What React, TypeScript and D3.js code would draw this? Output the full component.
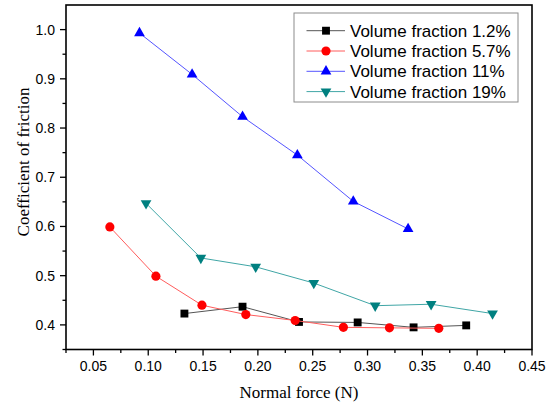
import React from 'react'
import * as d3 from 'd3'

const width = 551
const height = 407

const margins = { left: 66, right: 19, top: 5, bottom: 57.5 }

// data
const xBlack = [0.133, 0.186, 0.2375, 0.291, 0.342, 0.39]
const yBlack = [0.423, 0.437, 0.406, 0.405, 0.395, 0.399]
const xRed = [0.065, 0.107, 0.149, 0.189, 0.234, 0.278, 0.32, 0.365]
const yRed = [0.599, 0.499, 0.44, 0.421, 0.409, 0.395, 0.394, 0.393]
const xBlue = [0.092, 0.14, 0.186, 0.236, 0.287, 0.337]
const yBlue = [0.993, 0.909, 0.823, 0.745, 0.651, 0.595]
const xTeal = [0.098, 0.148, 0.198, 0.251, 0.307, 0.358, 0.414]
const yTeal = [0.647, 0.536, 0.518, 0.485, 0.439, 0.442, 0.423]

const seriesNames = [
  'Volume fraction 1.2%',
  'Volume fraction 5.7%',
  'Volume fraction 11%',
  'Volume fraction 19%',
]

const xTicks = [0.05, 0.1, 0.15, 0.2, 0.25, 0.3, 0.35, 0.4, 0.45]
const yTicks = [0.4, 0.5, 0.6, 0.7, 0.8, 0.9, 1.0]

const series = [
  { name: seriesNames[0], xs: xBlack, ys: yBlack, line: '#555555', fill: '#000000', symbol: d3.symbolSquare, size: 62, rotate: 0 },
  { name: seriesNames[1], xs: xRed, ys: yRed, line: '#ff5c5c', fill: '#ff0000', symbol: d3.symbolCircle, size: 66, rotate: 0 },
  { name: seriesNames[2], xs: xBlue, ys: yBlue, line: '#5555ff', fill: '#0000ff', symbol: d3.symbolTriangle, size: 50, rotate: 0 },
  { name: seriesNames[3], xs: xTeal, ys: yTeal, line: '#40a6a6', fill: '#008080', symbol: d3.symbolTriangle, size: 50, rotate: 180 },
]

const tickFont = { fontFamily: 'Liberation Sans, Arial, sans-serif', fontSize: '14px' }
const titleFont = { fontFamily: 'Liberation Serif, Times New Roman, serif', fontSize: '17px' }

export default function App() {
  const x = d3.scaleLinear().domain([0.025, 0.45]).range([margins.left, width - margins.right])
  const y = d3.scaleLinear().domain([0.35, 1.05]).range([height - margins.bottom, margins.top])

  const xMinor = d3.range(0.025, 0.45, 0.05)
  const yMinor = d3.range(0.35, 1.05, 0.1)

  const line = d3.line<number[]>().x((d) => x(d[0])).y((d) => y(d[1]))

  const legend = { x: 294, y: 13, w: 224, h: 89, rowStart: 30.7, rowStep: 20.3 }

  return (
    <svg width={width} height={height} style={{ position: 'absolute', left: 0, top: 0, background: '#fff' }}>
      {/* frame */}
      <rect
        x={x(0.025)}
        y={y(1.05)}
        width={x(0.45) - x(0.025)}
        height={y(0.35) - y(1.05)}
        fill="none"
        stroke="#000"
        strokeWidth={1.6}
      />
      {/* x ticks */}
      {xTicks.map((t) => (
        <g key={'xt' + t}>
          <line x1={x(t)} x2={x(t)} y1={y(0.35)} y2={y(0.35) + 6} stroke="#000" strokeWidth={1.3} />
          <text x={x(t)} y={371} textAnchor="middle" style={tickFont}>
            {t.toFixed(2)}
          </text>
        </g>
      ))}
      {xMinor.map((t) => (
        <line key={'xm' + t} x1={x(t)} x2={x(t)} y1={y(0.35)} y2={y(0.35) + 3.5} stroke="#000" strokeWidth={1.3} />
      ))}
      {/* y ticks */}
      {yTicks.map((t) => (
        <g key={'yt' + t}>
          <line x1={x(0.025) - 6} x2={x(0.025)} y1={y(t)} y2={y(t)} stroke="#000" strokeWidth={1.3} />
          <text x={55} y={y(t) + 5} textAnchor="end" style={tickFont}>
            {t.toFixed(1)}
          </text>
        </g>
      ))}
      {yMinor.map((t) => (
        <line key={'ym' + t} x1={x(0.025) - 3.5} x2={x(0.025)} y1={y(t)} y2={y(t)} stroke="#000" strokeWidth={1.3} />
      ))}
      {/* axis titles */}
      <text x={x(0.2375)} y={398} textAnchor="middle" style={titleFont}>
        Normal force (N)
      </text>
      <text transform="translate(29,162) rotate(-90)" textAnchor="middle" style={titleFont}>
        Coefficient of friction
      </text>
      {/* series */}
      {series.map((s) => {
        const pts = s.xs.map((v, i) => [v, s.ys[i]])
        const sym = d3.symbol().type(s.symbol).size(s.size)()
        return (
          <g key={s.name}>
            <path d={line(pts) || ''} fill="none" stroke={s.line} strokeWidth={1} />
            {pts.map((p, i) => (
              <path
                key={i}
                d={sym || ''}
                transform={`translate(${x(p[0])},${y(p[1])}) rotate(${s.rotate})`}
                fill={s.fill}
              />
            ))}
          </g>
        )
      })}
      {/* legend */}
      <rect x={legend.x} y={legend.y} width={legend.w} height={legend.h} fill="#fff" stroke="#8c8c8c" strokeWidth={1} />
      {series.map((s, i) => {
        const ry = legend.rowStart + i * legend.rowStep
        const sym = d3.symbol().type(s.symbol).size(s.size)()
        return (
          <g key={'lg' + s.name}>
            <line x1={306.5} x2={345} y1={ry} y2={ry} stroke={s.line} strokeWidth={1} />
            <path d={sym || ''} transform={`translate(326,${ry}) rotate(${s.rotate})`} fill={s.fill} />
            <text x={350} y={ry + 6} style={{ fontFamily: 'Liberation Sans, Arial, sans-serif', fontSize: '17px' }}>
              {s.name}
            </text>
          </g>
        )
      })}
    </svg>
  )
}
